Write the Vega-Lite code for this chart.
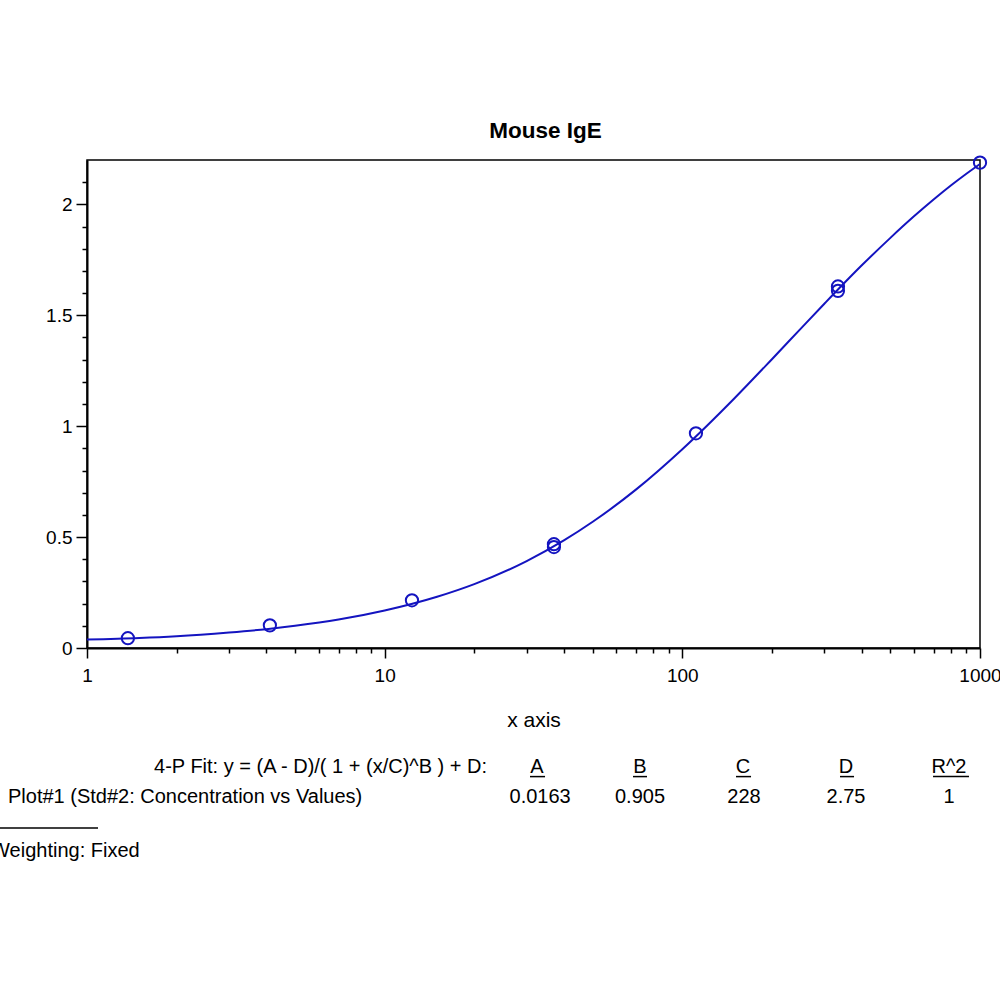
{
  "$schema": "https://vega.github.io/schema/vega-lite/v6.json",
  "description": "Mouse IgE standard curve, 4-parameter logistic fit",
  "autosize": {"type": "none"},
  "padding": {"left": 87, "top": 160, "right": 20, "bottom": 352},
  "width": 893,
  "height": 488,
  "background": "white",
  "config": {
    "font": "Liberation Sans",
    "view": {"stroke": "black", "strokeWidth": 1.5},
    "axis": {
      "grid": false,
      "domainColor": "black",
      "domainWidth": 2,
      "tickColor": "black",
      "tickWidth": 1.5,
      "labelColor": "black",
      "labelFontSize": 19,
      "labelOverlap": false,
      "labelFlush": false,
      "titleColor": "black",
      "titleFontSize": 21,
      "titleFontWeight": "normal"
    }
  },
  "title": {
    "text": "Mouse IgE",
    "fontSize": 22.5,
    "fontWeight": "bold",
    "color": "black",
    "offset": 10,
    "dx": 12
  },
  "datasets": {
    "fit": [
      {"conc": 1, "od": 0.038},
      {"conc": 1.5, "od": 0.045},
      {"conc": 2, "od": 0.053},
      {"conc": 3, "od": 0.07},
      {"conc": 4, "od": 0.085},
      {"conc": 5, "od": 0.1},
      {"conc": 7, "od": 0.128},
      {"conc": 10, "od": 0.169},
      {"conc": 15, "od": 0.231},
      {"conc": 20, "od": 0.288},
      {"conc": 30, "od": 0.392},
      {"conc": 40, "od": 0.485},
      {"conc": 50, "od": 0.569},
      {"conc": 70, "od": 0.715},
      {"conc": 100, "od": 0.896},
      {"conc": 150, "od": 1.127},
      {"conc": 200, "od": 1.302},
      {"conc": 250, "od": 1.44},
      {"conc": 300, "od": 1.552},
      {"conc": 400, "od": 1.724},
      {"conc": 500, "od": 1.849},
      {"conc": 600, "od": 1.946},
      {"conc": 700, "od": 2.023},
      {"conc": 800, "od": 2.086},
      {"conc": 900, "od": 2.138},
      {"conc": 1000, "od": 2.182}
    ],
    "std": [
      {"conc": 1.372, "od": 0.044},
      {"conc": 4.115, "od": 0.102},
      {"conc": 12.35, "od": 0.215},
      {"conc": 37.04, "od": 0.455},
      {"conc": 37.04, "od": 0.468},
      {"conc": 111.1, "od": 0.968},
      {"conc": 333.3, "od": 1.61},
      {"conc": 333.3, "od": 1.63},
      {"conc": 1000, "od": 2.188}
    ],
    "table": [
      {"t": "4-P Fit: y = (A - D)/( 1 + (x/C)^B ) + D:", "col": 0.515, "row": 1, "al": "right"},
      {"t": "A", "col": 1, "row": 1, "al": "center"},
      {"t": "B", "col": 2, "row": 1, "al": "center"},
      {"t": "C", "col": 3, "row": 1, "al": "center"},
      {"t": "D", "col": 4, "row": 1, "al": "center"},
      {"t": "R^2", "col": 5, "row": 1, "al": "center"},
      {"t": "Plot#1 (Std#2: Concentration vs Values)", "col": -4.136, "row": 2, "al": "left"},
      {"t": "0.0163", "col": 1.03, "row": 2, "al": "center"},
      {"t": "0.905", "col": 2, "row": 2, "al": "center"},
      {"t": "228", "col": 3.01, "row": 2, "al": "center"},
      {"t": "2.75", "col": 4, "row": 2, "al": "center"},
      {"t": "1", "col": 5, "row": 2, "al": "center"},
      {"t": "Weighting: Fixed", "col": -4.3, "row": 3.8, "al": "left"}
    ],
    "lines": [
      {"c0": 0.932, "c1": 1.078, "row": 1.32},
      {"c0": 1.932, "c1": 2.068, "row": 1.32},
      {"c0": 2.932, "c1": 3.078, "row": 1.32},
      {"c0": 3.942, "c1": 4.078, "row": 1.32},
      {"c0": 4.845, "c1": 5.194, "row": 1.32},
      {"c0": -4.5, "c1": -3.262, "row": 3.03}
    ]
  },
  "layer": [
    {
      "layer": [
        {
          "data": {"name": "fit"},
          "mark": {"type": "line", "color": "#1414c0", "strokeWidth": 2, "interpolate": "monotone"},
          "encoding": {
            "x": {
              "field": "conc",
              "type": "quantitative",
              "scale": {"type": "log", "domain": [1, 1000], "nice": false},
              "axis": {
                "title": "x axis",
                "titlePadding": 24,
                "labelPadding": 8,
                "labelOverlap": false,
                "tickCount": 40,
                "values": [1, 2, 3, 4, 5, 6, 7, 8, 9, 10, 20, 30, 40, 50, 60, 70, 80, 90, 100, 200, 300, 400, 500, 600, 700, 800, 900, 1000],
                "labelExpr": "indexof([1, 10, 100, 1000], datum.value) >= 0 ? format(datum.value, 'd') : ''",
                "tickSize": {"condition": {"test": "indexof([1, 10, 100, 1000], datum.value) >= 0", "value": 10}, "value": 5}
              }
            },
            "y": {
              "field": "od",
              "type": "quantitative",
              "scale": {"domain": [0, 2.2], "nice": false},
              "axis": {
                "title": null,
                "labelPadding": 4,
                "labelOverlap": false,
                "tickCount": 40,
                "values": [0, 0.1, 0.2, 0.3, 0.4, 0.5, 0.6, 0.7, 0.8, 0.9, 1, 1.1, 1.2, 1.3, 1.4, 1.5, 1.6, 1.7, 1.8, 1.9, 2, 2.1],
                "labelExpr": "indexof([0, 0.5, 1, 1.5, 2], datum.value) >= 0 ? format(datum.value, '~g') : ''",
                "tickSize": {"condition": {"test": "indexof([0, 0.5, 1, 1.5, 2], datum.value) >= 0", "value": 11}, "value": 5}
              }
            }
          }
        },
        {
          "data": {"name": "std"},
          "mark": {"type": "point", "shape": "circle", "filled": false, "color": "#1414c0", "strokeWidth": 2, "size": 150, "opacity": 1},
          "encoding": {
            "x": {"field": "conc", "type": "quantitative"},
            "y": {"field": "od", "type": "quantitative"}
          }
        }
      ]
    },
    {
      "layer": [
        {
          "data": {"name": "table"},
          "transform": [{"filter": "datum.al == 'left'"}],
          "mark": {"type": "text", "align": "left", "baseline": "middle", "fontSize": 20, "color": "black"},
          "encoding": {
            "x": {"field": "col", "type": "quantitative", "scale": {"domain": [1, 5], "range": [450, 862]}, "axis": null},
            "y": {"field": "row", "type": "quantitative", "scale": {"domain": [1, 2], "range": [607, 637]}, "axis": null},
            "text": {"field": "t"}
          }
        },
        {
          "data": {"name": "table"},
          "transform": [{"filter": "datum.al == 'center'"}],
          "mark": {"type": "text", "align": "center", "baseline": "middle", "fontSize": 20, "color": "black"},
          "encoding": {
            "x": {"field": "col", "type": "quantitative", "scale": {"domain": [1, 5], "range": [450, 862]}, "axis": null},
            "y": {"field": "row", "type": "quantitative", "scale": {"domain": [1, 2], "range": [607, 637]}, "axis": null},
            "text": {"field": "t"}
          }
        },
        {
          "data": {"name": "table"},
          "transform": [{"filter": "datum.al == 'right'"}],
          "mark": {"type": "text", "align": "right", "baseline": "middle", "fontSize": 20, "color": "black"},
          "encoding": {
            "x": {"field": "col", "type": "quantitative", "scale": {"domain": [1, 5], "range": [450, 862]}, "axis": null},
            "y": {"field": "row", "type": "quantitative", "scale": {"domain": [1, 2], "range": [607, 637]}, "axis": null},
            "text": {"field": "t"}
          }
        },
        {
          "data": {"name": "lines"},
          "mark": {"type": "rule", "color": "black", "strokeWidth": 1.5},
          "encoding": {
            "x": {"field": "c0", "type": "quantitative", "scale": {"domain": [1, 5], "range": [450, 862]}, "axis": null},
            "x2": {"field": "c1"},
            "y": {"field": "row", "type": "quantitative", "scale": {"domain": [1, 2], "range": [607, 637]}, "axis": null}
          }
        }
      ]
    }
  ],
  "resolve": {"scale": {"x": "independent", "y": "independent"}}
}
